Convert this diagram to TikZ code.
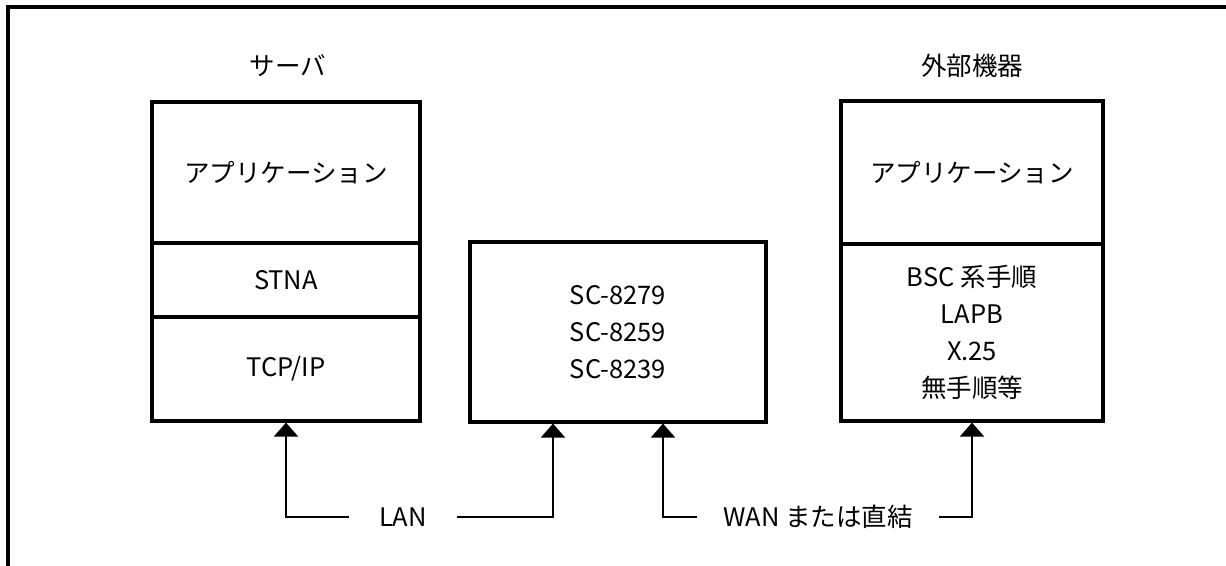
\documentclass[tikz,border=0pt]{standalone}
\usepackage{fontspec}
\setmainfont{Noto Sans CJK JP}
\usetikzlibrary{arrows.meta}

\tikzset{
  layer/.style={draw,line width=3.2pt,inner sep=0pt,align=center},
  link/.style={line width=2.2pt,-{Triangle[width=24pt,length=14pt]}},
  tag/.style={inner sep=0pt,align=center}
}

\begin{document}
\begin{tikzpicture}[x=1pt,y=-1pt,font=\fontsize{25.5}{37}\selectfont]
          \useasboundingbox (0,0) rectangle (1226,565);
          \clip (0,0) rectangle (1226,565);
          %outer frame, cut at the right and bottom
          \draw[line width=3.2pt] (8,7) rectangle (1300,640);
          %server
          \node[tag] (srv) at (288,66) {サーバ};
          \node[layer,minimum width=268pt,minimum height=141pt] (srvapp) at (286,172.5) {アプリケーション};
          \node[layer,minimum width=268pt,minimum height=74pt] (stna) at (286,280) {STNA};
          \node[layer,minimum width=268pt,minimum height=104pt] (tcp) at (286,369) {TCP/IP};
          %converter
          \node[layer,minimum width=296pt,minimum height=180pt] (sc) at (618,332) {SC-8279\\SC-8259\\SC-8239};
          %external device
          \node[tag] (ext) at (972,66) {外部機器};
          \node[layer,minimum width=262pt,minimum height=143pt] (extapp) at (972,172.5) {アプリケーション};
          \node[layer,minimum width=262pt,minimum height=177pt] (proto) at (972,332.5) {BSC 系手順\\LAPB\\X.25\\無手順等};
          %links
          \node[tag,minimum width=108pt] (lan) at (403,517) {LAN};
          \node[tag,minimum width=242pt] (wan) at (818,517) {WAN または直結};
          \draw[link] (lan.west) -| (tcp.south);
          \draw[link] (lan.east) -| ([xshift=-65pt]sc.south);
          \draw[link] (wan.west) -| ([xshift=45pt]sc.south);
          \draw[link] (wan.east) -| (proto.south);
        \end{tikzpicture}
\end{document}
